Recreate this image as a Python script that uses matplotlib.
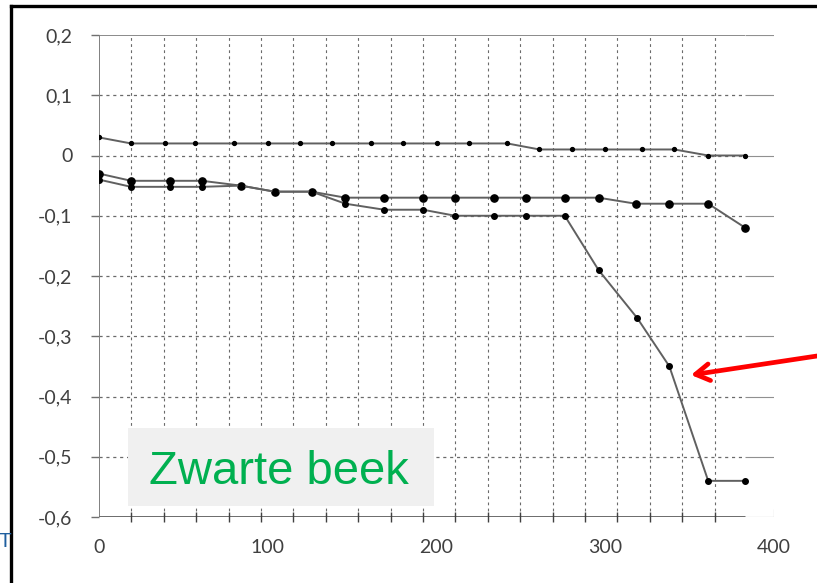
import numpy as np
import matplotlib
matplotlib.use("Agg")
import matplotlib.pyplot as plt
from matplotlib.ticker import FixedLocator, FuncFormatter
from matplotlib.patches import Rectangle
from matplotlib.lines import Line2D

plt.rcParams["font.family"] = ["Lato", "DejaVu Sans"]

# series (x in axis units, y in axis units)
top_x = [0, 19, 39, 57, 80, 100, 119, 138, 161, 180, 200, 219, 242, 261, 280, 300, 322, 341, 361, 383]
top_y = [0.03, 0.02, 0.02, 0.02, 0.02, 0.02, 0.02, 0.02, 0.02, 0.02, 0.02, 0.02, 0.02,
         0.01, 0.01, 0.01, 0.01, 0.01, 0.0, 0.0]

mid_x = [0, 19, 42, 61, 84, 104, 126, 146, 169, 192, 211, 234, 253, 276, 296, 318, 338, 361, 383]
mid_y = [-0.03, -0.042, -0.042, -0.042, -0.05, -0.06, -0.06, -0.07, -0.07, -0.07, -0.07, -0.07,
         -0.07, -0.07, -0.07, -0.08, -0.08, -0.08, -0.12]

low_x = [0, 19, 42, 61, 84, 104, 126, 146, 169, 192, 211, 234, 253, 276, 296, 319, 338, 361, 383]
low_y = [-0.04, -0.052, -0.052, -0.052, -0.05, -0.06, -0.06, -0.08, -0.09, -0.09, -0.10, -0.10,
         -0.10, -0.10, -0.19, -0.27, -0.35, -0.54, -0.54]

x_ticks = [0, 100, 200, 300, 400]
y_ticks = [-0.6, -0.5, -0.4, -0.3, -0.2, -0.1, 0.0, 0.1, 0.2]
grid_step = 19.2
data_end = 383

W, H = 817, 583
fig = plt.figure(figsize=(W / 100, H / 100), dpi=100)
ax = fig.add_axes([99 / W, 1 - 517 / H, (774 - 99) / W, (517 - 35) / H])
ax.set_xlim(0, 400)
ax.set_ylim(-0.6, 0.2)
for s in ax.spines.values():
    s.set_visible(False)

txt = "#404040"
grid_c = "#6a6a6a"
dash = (0, (2.5, 3))

# vertical dashed grid
vgrid = np.arange(1, 20) * grid_step
ax.vlines(vgrid, -0.6, 0.2, colors=grid_c, linestyles=dash, lw=0.8, zorder=1)
# horizontal dashed grid, solid stub on the right
hg = [y for y in y_ticks if -0.6 < y < 0.2]
ax.hlines(hg, 0, data_end, colors=grid_c, linestyles=dash, lw=0.9, zorder=1)
ax.hlines(hg + [0.2], data_end, 400, colors="#909090", lw=0.8, zorder=1)
ax.hlines(0.2, 0, data_end, colors="#8a8a8a", lw=1.4, zorder=1)
# axes lines
ax.vlines(0, -0.6, 0.2, colors="#808080", lw=1.4, zorder=2)
ax.hlines(-0.6, 0, data_end, colors="#404040", lw=1.8, zorder=2)
ax.hlines(-0.6, data_end, 400, colors="#909090", lw=0.8, zorder=2)
ax.vlines(400, -0.6, -0.587, colors="#909090", lw=0.8, zorder=2)

# ticks
ax.set_xticks(x_ticks)
ax.xaxis.set_minor_locator(FixedLocator(vgrid))
ax.tick_params(axis="x", which="major", length=0, pad=16, labelsize=14, labelcolor=txt)
ax.tick_params(axis="x", which="minor", direction="inout", length=7, width=1, color="#404040")
ax.set_yticks(y_ticks)
ax.yaxis.set_major_formatter(FuncFormatter(lambda v, p: "0" if abs(v) < 1e-9 else f"{v:.1f}".replace(".", ",")))
ax.tick_params(axis="y", which="major", direction="out", length=6, width=1, color="#707070",
               pad=13, labelsize=14, labelcolor=txt)

# data
line_c = "#606060"
ax.plot(top_x, top_y, color=line_c, lw=1.4, marker="o", ms=2.8, mfc="black", mec="black", zorder=5)
ax.plot(mid_x, mid_y, color=line_c, lw=1.4, marker="o", ms=5.2, mfc="black", mec="black", zorder=5)
ax.plot(low_x, low_y, color=line_c, lw=1.4, marker="o", ms=4, mfc="black", mec="black", zorder=5)

# label box
fig.patches.append(Rectangle((128 / W, 1 - 506 / H), 306 / W, 78 / H, transform=fig.transFigure,
                             facecolor="#f0f0f0", edgecolor="none", zorder=3))
fig.text(279 / W, 1 - 484 / H, "Zwarte beek", color="#00b050", fontsize=34, ha="center",
         va="baseline", family=["Liberation Sans", "DejaVu Sans"], zorder=4)

# red arrow
ax.annotate("", xy=(691, H - 375), xycoords="figure pixels", xytext=(817, H - 356),
            textcoords="figure pixels",
            arrowprops=dict(arrowstyle="->,head_length=1.0,head_width=0.6", color="#ff0000", lw=3.4,
                            shrinkA=0, shrinkB=0))

# frame and stray letter
fig.add_artist(Line2D([11 / W, 11 / W], [0, 1 - 6 / H], color="black", lw=2.4))
fig.add_artist(Line2D([11 / W, 1], [1 - 6 / H, 1 - 6 / H], color="black", lw=2.4))
fig.text(-0.002, 1 - 547 / H, "T", color="#1f5f9f", fontsize=15, ha="left", va="baseline",
         family=["Liberation Sans", "DejaVu Sans"])

fig.savefig("out.png", dpi=100)
